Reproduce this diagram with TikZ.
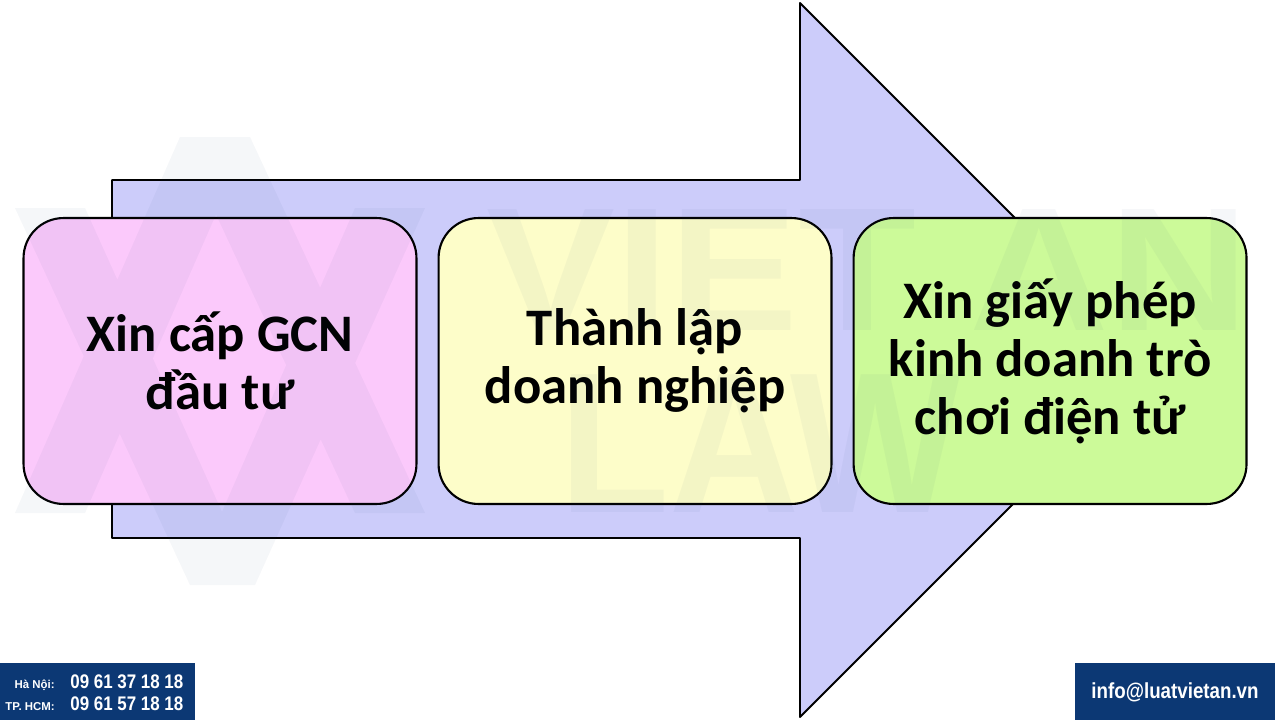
\documentclass[tikz,border=0pt]{standalone}
\usepackage{fontspec}
\setmainfont{Carlito}
\newfontfamily\markfont{Liberation Sans}
\newfontfamily\narrowfont[FakeStretch=0.86]{Liberation Sans}
\usetikzlibrary{positioning}
\definecolor{arrowblue}{RGB}{204,204,250}
\definecolor{boxpink}{RGB}{251,201,251}
\definecolor{boxyellow}{RGB}{253,253,201}
\definecolor{boxgreen}{RGB}{204,250,153}
\definecolor{navy}{RGB}{12,56,116}
\definecolor{markblue}{RGB}{40,70,120}
\tikzset{stepbox/.style={draw, line width=1.2pt, rounded corners=0.8cm, minimum width=7.86cm, minimum height=5.72cm, align=center, font=\bfseries\fontsize{30}{33}\selectfont}}
\tikzset{footbox/.style={fill=navy, minimum height=1.14cm, anchor=north west, inner sep=0pt}}

\begin{document}
\begin{tikzpicture}[x=0.02cm,y=-0.02cm]
\useasboundingbox (0,0) rectangle (1280,720);
\fill[white] (0,0) rectangle (1280,720);
\draw[fill=arrowblue, line width=1.1pt, line join=round] (112,180) -- (800,180) -- (800,3) -- (1157,360) -- (800,717) -- (800,538) -- (112,538) -- cycle;
\node[stepbox, fill=boxpink] (gcn) at (220,361) {Xin cấp GCN\\đầu tư};
\node[stepbox, fill=boxyellow, right=0.4cm of gcn] (dn) {Thành lập\\doanh nghiệp};
\node[stepbox, fill=boxgreen, right=0.4cm of dn] (gp) {Xin giấy phép\\kinh doanh trò\\chơi điện tử};
\fill[markblue, opacity=0.045] (15,208) -- (85,208) -- (255,585) -- (190,585) -- cycle
  (355,208) -- (425,208) -- (255,585) -- (190,585) -- cycle
  (180,137) -- (250,137) -- (85,513) -- (15,513) -- cycle
  (180,137) -- (250,137) -- (425,513) -- (355,513) -- cycle;
\node[anchor=base, text=markblue, opacity=0.045, xscale=1.1, font=\markfont\bfseries\fontsize{100}{100}\selectfont] (markvn) at (868,330) {VIET AN};
\node[anchor=base, text=markblue, opacity=0.045, xscale=0.9, font=\markfont\bfseries\fontsize{114}{114}\selectfont] (marklaw) at (760,512) {LAW};
\node[footbox, minimum width=3.9cm] (hotline) at (0,663) {};
\node[footbox, minimum width=4cm] (mailbox) at (1075,663) {};
\node[anchor=base east, text=white, inner sep=0pt, font=\markfont\bfseries\fontsize{6.5}{7}\selectfont] (hn) at (55,688) {Hà Nội:};
\node[anchor=base west, text=white, inner sep=0pt, font=\narrowfont\bfseries\fontsize{11.2}{12}\selectfont] (hnphone) at (70,688) {09 61 37 18 18};
\node[anchor=base east, text=white, inner sep=0pt, font=\markfont\bfseries\fontsize{6.5}{7}\selectfont] (hcm) at (55,710) {TP. HCM:};
\node[anchor=base west, text=white, inner sep=0pt, font=\narrowfont\bfseries\fontsize{11.2}{12}\selectfont] (hcmphone) at (70,710) {09 61 57 18 18};
\node[anchor=base, text=white, inner sep=0pt, font=\narrowfont\bfseries\fontsize{12.4}{13}\selectfont] (mail) at (1175,698) {info@luatvietan.vn};
\end{tikzpicture}
\end{document}
